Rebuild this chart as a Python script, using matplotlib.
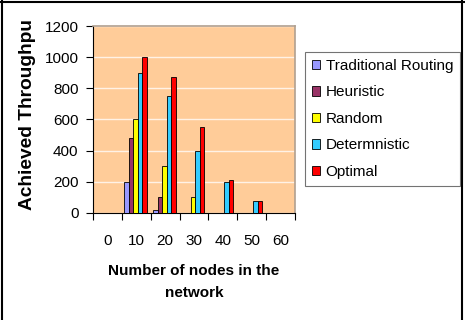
import matplotlib
matplotlib.use("Agg")
import matplotlib.pyplot as plt
import numpy as np
from matplotlib.transforms import Bbox, TransformedBbox
from matplotlib.lines import Line2D

plt.rcParams['font.family'] = ['Liberation Sans', 'DejaVu Sans']

categories = ['0', '10', '20', '30', '40', '50', '60']
series_names = ['Traditional Routing', 'Heuristic', 'Random', 'Determnistic', 'Optimal']
traditional = [0, 200, 20, 0, 0, 0, 0]
heuristic = [0, 480, 100, 0, 0, 0, 0]
random_ = [0, 600, 300, 100, 0, 0, 0]
determnistic = [0, 900, 750, 400, 200, 75, 0]
optimal = [0, 1000, 875, 550, 210, 80, 0]
series = [traditional, heuristic, random_, determnistic, optimal]
colors = ['#9999FF', '#993366', '#FFFF00', '#33CCFF', '#FF0000']
y_ticks = [0, 200, 400, 600, 800, 1000, 1200]

fig = plt.figure(figsize=(4.65, 3.2), dpi=100)
ax = fig.add_axes([93/465, 1-213/320, (295-93)/465, (213-26)/320])
ax.set_facecolor('#FFCC99')

x = np.arange(len(categories))
w = 0.156
for i, (vals, c, name) in enumerate(zip(series, colors, series_names)):
    vals = np.array(vals, dtype=float)
    mask = vals > 0
    ax.bar(x[mask] + (i - 2) * w - 0.03, vals[mask], width=w, color=c,
           edgecolor='black', linewidth=0.6, label=name, zorder=3)

ax.set_xlim(-0.5, len(categories) - 0.5)
ax.set_ylim(0, 1200)
ax.set_yticks(y_ticks)
ax.set_yticklabels([str(v) for v in y_ticks], fontsize=11)
ax.yaxis.grid(True, color='#FFF2E6', linewidth=1.0, zorder=0)
ax.set_axisbelow(True)

ax.set_xticks(np.arange(-0.5, len(categories), 1.0))
ax.set_xticklabels([])
ax.set_xticks(x, minor=True)
ax.set_xticklabels(categories, minor=True, fontsize=11)
ax.tick_params(axis='x', which='minor', length=0, pad=15)
ax.tick_params(axis='x', which='major', length=5, width=0.8, direction='out')
ax.tick_params(axis='y', length=5, width=0.8, direction='out', pad=5.5)

for s in ['top', 'right']:
    ax.spines[s].set_color('#B0A090')
    ax.spines[s].set_linewidth(1.2)
for s in ['left', 'bottom']:
    ax.spines[s].set_color('black')
    ax.spines[s].set_linewidth(0.8)

# y label (clipped at top as in the reference)
t = fig.text(27/465, 1-210/320, 'Achieved Throughput', rotation=90, ha='center',
             va='bottom', fontsize=13.8, fontweight='bold')
t.set_clip_box(TransformedBbox(Bbox([[0, 0], [1, 1-20/320]]), fig.transFigure))
t.set_clip_on(True)

fig.text(194/465, 1-282/320, 'Number of nodes in the\nnetwork', ha='center',
         va='center', fontsize=11, fontweight='bold', linespacing=1.65)

leg = fig.legend(loc='upper left', bbox_to_anchor=(305/465, 1-52/320),
                 fontsize=11, frameon=True, fancybox=False, handlelength=0.55,
                 handleheight=0.55, handletextpad=0.35, labelspacing=0.82,
                 borderpad=0.45, borderaxespad=0)
leg.get_frame().set_edgecolor('#505050')
leg.get_frame().set_linewidth(0.8)

# outer frame
for xs, ys in [([2/465, 2/465], [0, 1]), ([0, 1], [1-2/320, 1-2/320]),
               ([462/465, 462/465], [0, 1])]:
    fig.add_artist(Line2D(xs, ys, color='black', linewidth=1.5,
                          transform=fig.transFigure))

fig.savefig('out.png', dpi=100)
